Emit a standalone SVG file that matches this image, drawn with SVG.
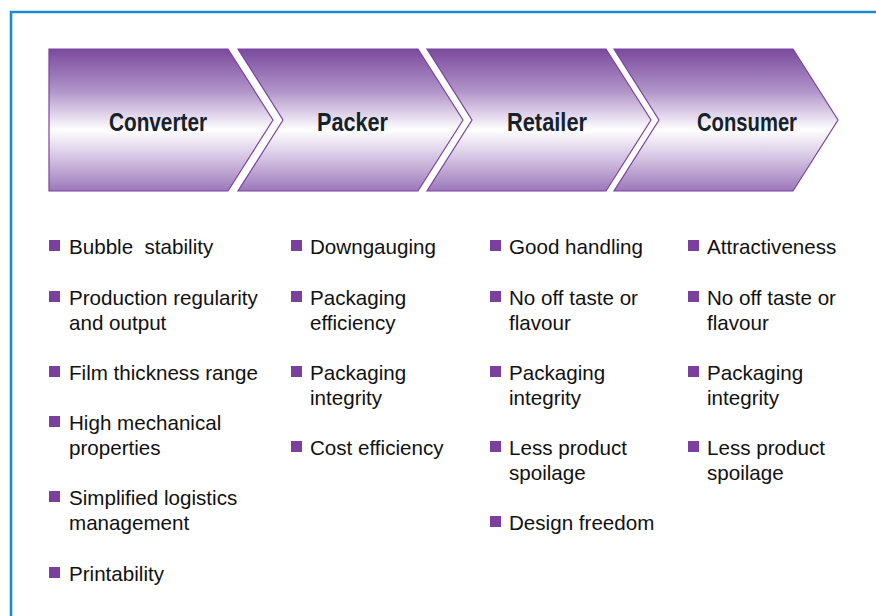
<svg xmlns="http://www.w3.org/2000/svg" width="876" height="616" viewBox="0 0 876 616">
<defs>
<linearGradient id="g" x1="0" y1="0" x2="0" y2="1">
<stop offset="0" stop-color="#7a4a9d"/>
<stop offset="0.3" stop-color="#b195c9"/>
<stop offset="0.57" stop-color="#ffffff"/>
<stop offset="0.8" stop-color="#cdb9dd"/>
<stop offset="1" stop-color="#9b78ba"/>
</linearGradient>
</defs>
<style>
.chev{fill:url(#g);stroke:#7b42a0;stroke-width:1.2}
.h{font-family:"Liberation Sans",Arial,sans-serif;font-weight:bold;font-size:25px;fill:#15222b;text-anchor:middle}
.t{font-family:"Liberation Sans",Arial,sans-serif;font-size:20.6px;fill:#111}
.b{fill:#7b3f9e}
</style>
<rect width="876" height="616" fill="#fff"/>
<path d="M11,616 V12 H876" fill="none" stroke="#1a8ad3" stroke-width="2.6"/>

<g id="converter">
<path class="chev" d="M49,49 H228 L273,120 L228,191 H49 Z"/>
<text class="h" x="158" y="131" textLength="98" lengthAdjust="spacingAndGlyphs">Converter</text>
</g>
<g id="packer">
<path class="chev" d="M238,49 H418 L463,120 L418,191 H238 L283,120 Z"/>
<text class="h" x="352.5" y="131" textLength="71" lengthAdjust="spacingAndGlyphs">Packer</text>
</g>
<g id="retailer">
<path class="chev" d="M427,49 H606 L651,120 L606,191 H427 L472,120 Z"/>
<text class="h" x="547" y="131" textLength="80" lengthAdjust="spacingAndGlyphs">Retailer</text>
</g>
<g id="consumer">
<path class="chev" d="M614,49 H793 L838,120 L793,191 H614 L659,120 Z"/>
<text class="h" x="747" y="131" textLength="100" lengthAdjust="spacingAndGlyphs">Consumer</text>
</g>

<g id="converter-list">
<rect class="b" x="49" y="240" width="11" height="11"/><text class="t" x="69" y="254" xml:space="preserve">Bubble  stability</text>
<rect class="b" x="49" y="291" width="11" height="11"/><text class="t" x="69" y="305">Production regularity</text><text class="t" x="69" y="330">and output</text>
<rect class="b" x="49" y="366" width="11" height="11"/><text class="t" x="69" y="380">Film thickness range</text>
<rect class="b" x="49" y="416" width="11" height="11"/><text class="t" x="69" y="430">High mechanical</text><text class="t" x="69" y="455">properties</text>
<rect class="b" x="49" y="491" width="11" height="11"/><text class="t" x="69" y="505">Simplified logistics</text><text class="t" x="69" y="530">management</text>
<rect class="b" x="49" y="567" width="11" height="11"/><text class="t" x="69" y="581">Printability</text>
</g>
<g id="packer-list">
<rect class="b" x="291" y="240" width="11" height="11"/><text class="t" x="310" y="254">Downgauging</text>
<rect class="b" x="291" y="291" width="11" height="11"/><text class="t" x="310" y="305">Packaging</text><text class="t" x="310" y="330">efficiency</text>
<rect class="b" x="291" y="366" width="11" height="11"/><text class="t" x="310" y="380">Packaging</text><text class="t" x="310" y="405">integrity</text>
<rect class="b" x="291" y="441" width="11" height="11"/><text class="t" x="310" y="455">Cost efficiency</text>
</g>
<g id="retailer-list">
<rect class="b" x="490" y="240" width="11" height="11"/><text class="t" x="509" y="254">Good handling</text>
<rect class="b" x="490" y="291" width="11" height="11"/><text class="t" x="509" y="305">No off taste or</text><text class="t" x="509" y="330">flavour</text>
<rect class="b" x="490" y="366" width="11" height="11"/><text class="t" x="509" y="380">Packaging</text><text class="t" x="509" y="405">integrity</text>
<rect class="b" x="490" y="441" width="11" height="11"/><text class="t" x="509" y="455">Less product</text><text class="t" x="509" y="480">spoilage</text>
<rect class="b" x="490" y="516" width="11" height="11"/><text class="t" x="509" y="530">Design freedom</text>
</g>
<g id="consumer-list">
<rect class="b" x="688" y="240" width="11" height="11"/><text class="t" x="707" y="254">Attractiveness</text>
<rect class="b" x="688" y="291" width="11" height="11"/><text class="t" x="707" y="305">No off taste or</text><text class="t" x="707" y="330">flavour</text>
<rect class="b" x="688" y="366" width="11" height="11"/><text class="t" x="707" y="380">Packaging</text><text class="t" x="707" y="405">integrity</text>
<rect class="b" x="688" y="441" width="11" height="11"/><text class="t" x="707" y="455">Less product</text><text class="t" x="707" y="480">spoilage</text>
</g>
<g id="connectors"/>
</svg>
